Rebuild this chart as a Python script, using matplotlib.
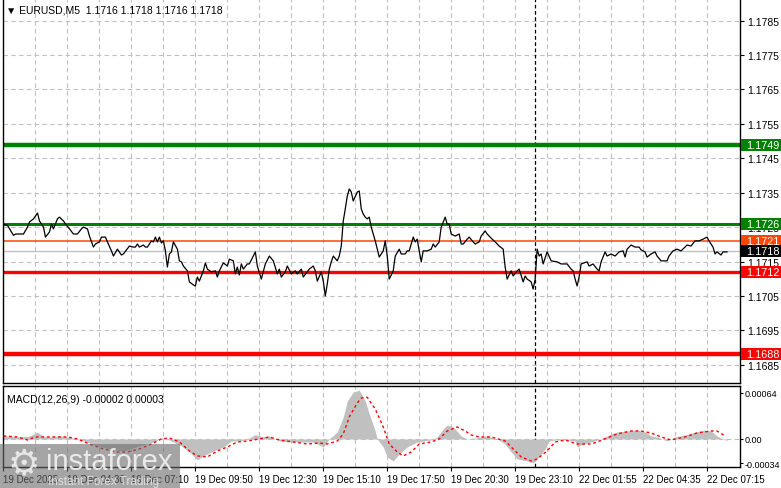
import matplotlib.pyplot as plt
import matplotlib.transforms as mtransforms
from matplotlib.patches import Rectangle

plt.rcParams['font.family'] = ['Liberation Sans', 'DejaVu Sans']

# EURUSD M5 closes (bar index, price)
bar_idx = [0, 2, 5, 6, 10, 12, 13, 15, 17, 18, 20, 21, 23, 24, 25, 27, 28, 30, 31, 33,
           35, 37, 39, 40, 42, 43, 45, 46, 48, 49, 51, 52, 54, 55, 57, 59, 60, 63, 65, 66,
           67, 68, 70, 71, 72, 74, 75, 76, 77, 78, 79, 80, 81, 82, 83, 84, 85, 87, 88, 89,
           90, 92, 93, 95, 96, 97, 98, 100, 101, 102, 104, 106, 107, 108, 110, 112, 113, 115, 116, 117,
           118, 119, 120, 122, 123, 125, 126, 127, 129, 131, 133, 135, 137, 138, 139, 141, 142, 144, 146, 147,
           149, 150, 152, 153, 155, 156, 157, 159, 160, 161, 162, 163, 164, 165, 167, 168, 169, 170, 171, 172,
           173, 174, 175, 177, 178, 179, 180, 181, 182, 183, 184, 186, 188, 190, 191, 192, 193, 194, 195, 196,
           198, 199, 201, 202, 203, 205, 206, 207, 208, 209, 210, 212, 214, 215, 216, 218, 219, 221, 222, 223,
           224, 226, 228, 229, 230, 232, 233, 235, 236, 238, 239, 241, 242, 244, 246, 248, 250, 251, 252, 254,
           255, 257, 258, 260, 261, 262, 264, 265, 266, 267, 268, 269, 270, 272, 274, 277, 279, 282, 284, 285,
           286, 287, 288, 289, 292, 293, 295, 297, 298, 299, 301, 302, 304, 306, 308, 310, 311, 312, 314, 316,
           318, 319, 321, 322, 324, 326, 327, 329, 332, 333, 335, 337, 339, 341, 342, 344, 346, 348, 350, 352,
           353, 355, 356, 357, 359, 360, 362]
close = [1.17259, 1.17255, 1.17226, 1.17230, 1.17230, 1.17250, 1.17265, 1.17274, 1.17291, 1.17268,
         1.17250, 1.17221, 1.17236, 1.17259, 1.17245, 1.17274, 1.17279, 1.17268, 1.17259, 1.17245,
         1.17230, 1.17230, 1.17245, 1.17250, 1.17245, 1.17224, 1.17192, 1.17201, 1.17207, 1.17221,
         1.17221, 1.17207, 1.17181, 1.17166, 1.17186, 1.17169, 1.17172, 1.17195, 1.17192, 1.17192,
         1.17201, 1.17192, 1.17198, 1.17192, 1.17192, 1.17210, 1.17207, 1.17221, 1.17207, 1.17221,
         1.17204, 1.17210, 1.17181, 1.17134, 1.17172, 1.17178, 1.17207, 1.17186, 1.17152, 1.17149,
         1.17137, 1.17123, 1.17091, 1.17082, 1.17079, 1.17105, 1.17093, 1.17123, 1.17146, 1.17128,
         1.17120, 1.17123, 1.17105, 1.17123, 1.17146, 1.17137, 1.17157, 1.17152, 1.17114, 1.17134,
         1.17111, 1.17143, 1.17128, 1.17143, 1.17143, 1.17166, 1.17178, 1.17137, 1.17099, 1.17143,
         1.17166, 1.17152, 1.17114, 1.17128, 1.17105, 1.17120, 1.17137, 1.17114, 1.17123, 1.17114,
         1.17128, 1.17105, 1.17120, 1.17128, 1.17137, 1.17123, 1.17093, 1.17120, 1.17093, 1.17050,
         1.17085, 1.17128, 1.17149, 1.17166, 1.17152, 1.17166, 1.17195, 1.17268, 1.17303, 1.17340,
         1.17361, 1.17352, 1.17326, 1.17352, 1.17355, 1.17303, 1.17288, 1.17279, 1.17274, 1.17279,
         1.17250, 1.17210, 1.17163, 1.17181, 1.17210, 1.17166, 1.17099, 1.17111, 1.17123, 1.17166,
         1.17186, 1.17172, 1.17172, 1.17181, 1.17181, 1.17221, 1.17207, 1.17215, 1.17181, 1.17149,
         1.17181, 1.17181, 1.17186, 1.17201, 1.17192, 1.17207, 1.17250, 1.17279, 1.17259, 1.17259,
         1.17230, 1.17224, 1.17230, 1.17201, 1.17201, 1.17215, 1.17221, 1.17207, 1.17201, 1.17207,
         1.17224, 1.17239, 1.17230, 1.17218, 1.17207, 1.17195, 1.17186, 1.17134, 1.17099, 1.17123,
         1.17108, 1.17123, 1.17128, 1.17091, 1.17108, 1.17099, 1.17091, 1.17070, 1.17099, 1.17186,
         1.17166, 1.17172, 1.17143, 1.17178, 1.17152, 1.17149, 1.17143, 1.17143, 1.17128, 1.17123,
         1.17099, 1.17079, 1.17105, 1.17143, 1.17149, 1.17137, 1.17143, 1.17128, 1.17123, 1.17149,
         1.17178, 1.17166, 1.17172, 1.17166, 1.17178, 1.17181, 1.17163, 1.17186, 1.17198, 1.17192,
         1.17192, 1.17184, 1.17178, 1.17163, 1.17172, 1.17178, 1.17166, 1.17152, 1.17152, 1.17166,
         1.17181, 1.17186, 1.17181, 1.17192, 1.17198, 1.17195, 1.17210, 1.17210, 1.17215, 1.17221,
         1.17210, 1.17192, 1.17172, 1.17178, 1.17169, 1.17178, 1.17178]

# MACD(12,26,9) main (histogram) and signal
macd_bar = [0, 8, 13, 17, 20, 24, 28, 32, 37, 42, 47, 53, 60, 68, 75, 79, 82, 85, 89, 93,
            97, 100, 105, 110, 114, 118, 122, 126, 130, 133, 138, 143, 148, 155, 160, 163, 167, 170, 172, 175,
            178, 181, 183, 186, 187, 190, 192, 195, 198, 202, 207, 214, 217, 220, 222, 225, 229, 232, 236, 239,
            242, 247, 251, 254, 257, 262, 265, 267, 271, 273, 276, 281, 286, 287, 290, 294, 297, 301, 304, 307,
            312, 317, 321, 324, 327, 332, 336, 341, 346, 351, 354, 357, 361, 362]
macd_val = [0.000046, 0.000028, 0.000042, 0.000097, 0.000032, 0.000028, 0.000042, 0.000028, 0.0, -0.000042,
            -0.000097, -0.000139, -0.000167, -0.000097, -0.000042, 0.000014, 0.0, -0.000042, -0.000097, -0.000181,
            -0.000292, -0.000236, -0.000167, -0.000111, -0.000028, -0.000028, 0.0, 0.00006, 0.000028, 0.000042,
            -0.000028, -0.000042, -0.000042, -0.000042, -0.000111, 0.0, 0.000097, 0.000306, 0.000528, 0.000653,
            0.00068, 0.000528, 0.000347, 0.000111, 0.0, -0.000111, -0.00025, -0.000306, -0.000209, -0.000111,
            -0.000042, -0.000014, 0.000028, 0.000139, 0.000195, 0.000167, 0.000042, 0.0, 0.000014, 0.000028,
            0.000042, 0.0, -0.00007, -0.000181, -0.000278, -0.000306, -0.000334, -0.000278, -0.000139, -0.000028,
            -0.000014, -0.000014, -0.000028, -0.000111, -0.00007, -0.000042, -0.000014, 0.000028, 0.00007, 0.000097,
            0.000111, 0.000125, 0.000097, 0.000042, 0.000028, -0.000028, 0.000028, 0.000056, 0.000097, 0.000125,
            0.000111, 0.000042, -0.000014, -0.00002]
sig_bar = [0, 7, 12, 16, 20, 25, 32, 37, 43, 50, 57, 62, 68, 74, 79, 83, 88, 93, 97, 102,
           107, 112, 117, 122, 128, 133, 138, 145, 152, 158, 162, 167, 170, 173, 177, 179, 182, 186, 190, 193,
           197, 200, 204, 208, 214, 218, 222, 227, 231, 234, 238, 244, 251, 255, 259, 264, 267, 272, 276, 281,
           287, 294, 297, 302, 307, 314, 319, 324, 329, 334, 341, 347, 354, 357, 361]
sig_val = [0.000042, 0.000028, -0.000014, 0.000028, 0.000028, 0.000028, 0.000028, 0.0, -0.00007, -0.000139,
           -0.000181, -0.000181, -0.000139, -0.00007, 0.0, 0.000014, -0.000042, -0.000167, -0.000236, -0.00025,
           -0.000167, -0.000111, -0.000042, -0.000028, 0.0, 0.000028, -0.000014, -0.000042, -0.00007, -0.000056,
           -0.00007, -0.000028, 0.000069, 0.000306, 0.0005, 0.00057, 0.00058, 0.000417, 0.000167, -0.00007,
           -0.000181, -0.000236, -0.000181, -0.00007, -0.000042, 0.0, 0.000111, 0.000167, 0.000111, 0.000056,
           0.000028, 0.000028, -0.000028, -0.000139, -0.00025, -0.000306, -0.000278, -0.000167, -0.000042, -0.000014,
           -0.00007, -0.00007, -0.000042, 0.000014, 0.00007, 0.000111, 0.000111, 0.000083, 0.000028, -0.000014,
           0.000028, 0.000083, 0.000111, 0.000111, 0.000042]

# horizontal levels: (price, colour, width)
levels = [(1.1749, '#008000', 3.2), (1.1726, '#008000', 2.2), (1.1721, '#ff4500', 1.1),
          (1.1712, '#ff0000', 2.4), (1.1688, '#ff0000', 3.2)]
bid = 1.1718
price_ticks = [1.1685, 1.1695, 1.1705, 1.1715, 1.1725, 1.1735, 1.1745, 1.1755, 1.1765, 1.1775, 1.1785]
time_ticks = [0, 32, 64, 96, 128, 160, 192, 224, 256, 288, 320, 352]
time_labels = ['19 Dec 2025', '19 Dec 04:30', '19 Dec 07:10', '19 Dec 09:50', '19 Dec 12:30',
               '19 Dec 15:10', '19 Dec 17:50', '19 Dec 20:30', '19 Dec 23:10', '22 Dec 01:55',
               '22 Dec 04:35', '22 Dec 07:15']
separator = 266

W, H = 781, 489
fig = plt.figure(figsize=(W / 100, H / 100), dpi=100)


def fbox(l, t, r, b):
    return [l / W, 1 - b / H, (r - l) / W, (b - t) / H]


ax = fig.add_axes(fbox(3, 0, 740, 384))
ax2 = fig.add_axes(fbox(3, 387, 740, 468))
grid_kw = dict(color='#c0c0c0', lw=0.8, ls=(0, (4, 3)))

for a in (ax, ax2):
    a.set_xlim(-0.25, 368.5)
    for s in a.spines.values():
        s.set_color('black')
        s.set_linewidth(1)
    for g in range(16, 368, 16):
        a.axvline(g, zorder=0, **grid_kw)
    a.axvline(separator, color='black', lw=0.9, ls=(0, (3, 2)), zorder=1)
    a.yaxis.tick_right()
    a.tick_params(axis='y', length=3, width=0.8, labelsize=7.5, pad=2)

ax.spines['top'].set_visible(False)

# main price panel
ax.set_ylim(1.16797, 1.17913)
ax.set_yticks(price_ticks)
ax.set_yticklabels([f'{p:.4f}' for p in price_ticks])
for p in price_ticks:
    ax.axhline(p, zorder=0, **grid_kw)
ax.set_xticks([])
ax.axhline(bid, color='#c0c0c0', lw=1, zorder=1)
for p, c, w in levels:
    ax.axhline(p, color=c, lw=w, zorder=2)
ax.plot(bar_idx, close, color='black', lw=0.9, zorder=3)

# coloured price labels on the right scale
tr = mtransforms.blended_transform_factory(fig.transFigure, ax.transData)
box_h = 12 / 384 * (1.17913 - 1.16797)
for p, c, w in levels + [(bid, 'black', 0)]:
    ax.add_patch(Rectangle((741 / W, p - box_h / 2), 40 / W, box_h, transform=tr,
                           fc=c, ec='none', clip_on=False, zorder=6))
    ax.text(746 / W, p, f'{p:.4f}', transform=tr, fontsize=7.8, color='white',
            va='center', ha='left', zorder=7, clip_on=False)

ax.text(0.004, 0.985, '\u25bc EURUSD,M5  1.1716 1.1718 1.1716 1.1718', transform=ax.transAxes,
        fontsize=7.5, va='top', ha='left', family=['Liberation Sans', 'DejaVu Sans'])

# MACD panel
ax2.set_ylim(-0.00039, 0.000737)
ax2.set_yticks([-0.00034, 0.0, 0.00064])
ax2.set_yticklabels(['-0.00034', '0.00', '0.00064'])
ax2.tick_params(axis='y', labelsize=6.5, pad=0.5, length=2.5)
ax2.axhline(0, zorder=0, **grid_kw)
ax2.fill_between(macd_bar, macd_val, 0, color='#c0c0c0', lw=0, zorder=2)
ax2.plot(sig_bar, sig_val, color='#ff0000', lw=1, ls=(0, (2, 2)), zorder=3)
ax2.text(0.006, 0.9, 'MACD(12,26,9) -0.00002 0.00003', transform=ax2.transAxes,
         fontsize=7.5, va='top', ha='left')
ax2.set_xticks(time_ticks)
ax2.set_xticklabels(time_labels, ha='left', fontsize=7)
ax2.tick_params(axis='x', length=3, width=0.8, pad=2)

# instaforex watermark
fig.add_artist(Rectangle((0, 0), 180 / W, 44 / H, transform=fig.transFigure,
                         fc='#6a6a6a', ec='none', alpha=0.6, zorder=10))
fig.text(8 / W, 1 - 464 / H, '\u2699', fontsize=26, color='#eeeeee', va='center', ha='left',
         family='DejaVu Sans', zorder=11, alpha=0.9)
fig.text(46 / W, 1 - 462 / H, 'instaforex', fontsize=21, color='#f2f2f2', va='center', ha='left',
         zorder=11, alpha=0.9)
fig.text(48 / W, 1 - 482 / H, 'Instant Forex Trading', fontsize=8.5, color='#e6e6e6',
         va='center', ha='left', zorder=11, alpha=0.9)

fig.savefig('out.png', dpi=100)
